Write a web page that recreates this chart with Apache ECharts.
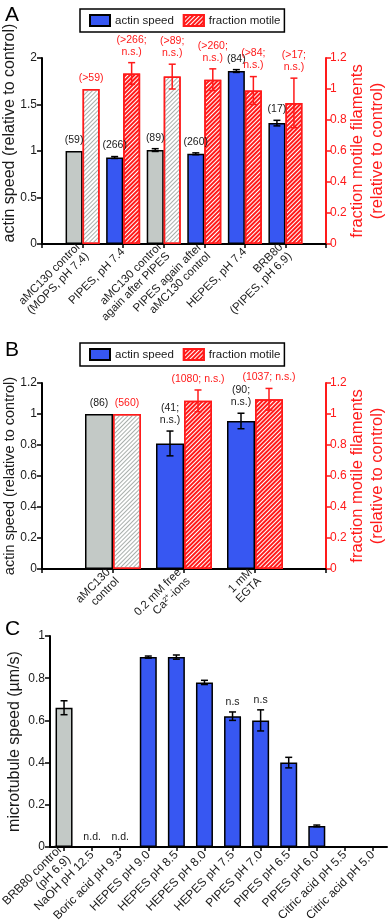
<!DOCTYPE html>
<html><head><meta charset="utf-8">
<script src="https://cdn.jsdelivr.net/npm/echarts@6/dist/echarts.min.js"></script>
<style>html,body{margin:0;padding:0;background:#fff}#c{width:392px;height:922px}</style>
</head><body><div id="c"></div>
<script>
// ---------- Panel A ----------
const catsA = ['aMC130 control\n(MOPS, pH 7.4)', 'PIPES, pH 7.4', 'aMC130 control\nagain after PIPES', 'PIPES again after\naMC130 control', 'HEPES, pH 7.4', 'BRB80\n(PIPES, pH 6.9)'];
const speedA = [1.00, 0.93, 1.01, 0.97, 1.86, 1.30];
const speedErrA = [0, 0.01, 0.015, 0.01, 0.015, 0.03];
const speedLblA = ['(59)', '(266)', '(89)', '(260)', '(84)', '(17)'];
const motileA = [1.00, 1.10, 1.08, 1.06, 0.99, 0.91];
const motileErrA = [0, 0.07, 0.08, 0.07, 0.09, 0.16];
const motileLblA = ['(>59)', '(>266;\nn.s.)', '(>89;\nn.s.)', '(>260;\nn.s.)', '(>84;\nn.s.)', '(>17;\nn.s.)'];
const controlA = [true, false, true, false, false, false];
const ticksLeftA = [0, 0.5, 1, 1.5, 2];
const ticksRightA = [0, 0.2, 0.4, 0.6, 0.8, 1, 1.2];

// ---------- Panel B ----------
const catsB = ['aMC130\ncontrol', '0.2 mM free\nCa²⁺-ions', '1 mM\nEGTA'];
const speedB = [1.00, 0.81, 0.955];
const speedErrB = [0, 0.08, 0.05];
const speedLblB = ['(86)', '(41;\nn.s.)', '(90;\nn.s.)'];
const motileB = [1.00, 1.085, 1.095];
const motileErrB = [0, 0.07, 0.07];
const motileLblB = ['(560)', '(1080; n.s.)', '(1037; n.s.)'];
const controlB = [true, false, false];
const ticksLeftB = [0, 0.2, 0.4, 0.6, 0.8, 1, 1.2];
const ticksRightB = [0, 0.2, 0.4, 0.6, 0.8, 1, 1.2];

// ---------- Panel C ----------
const catsC = ['BRB80 control\n(pH 6.9)', 'NaOH pH 12.5', 'Boric acid pH 9.3', 'HEPES pH 9.0', 'HEPES pH 8.5', 'HEPES pH 8.0', 'HEPES pH 7.5', 'PIPES pH 7.0', 'PIPES pH 6.5', 'PIPES pH 6.0', 'Citric acid pH 5.5', 'Citric acid pH 5.0'];
const speedC = [0.66, null, null, 0.90, 0.90, 0.78, 0.62, 0.60, 0.40, 0.10, null, null];
const speedErrC = [0.033, 0, 0, 0.005, 0.01, 0.01, 0.02, 0.05, 0.025, 0.004, 0, 0];
const speedLblC = ['', 'n.d.', 'n.d.', '', '', '', 'n.s', 'n.s', '', '', '', ''];
const controlC = [true, false, false, false, false, false, false, false, false, false, false, false];
const ticksC = [0, 0.2, 0.4, 0.6, 0.8, 1];

// ---------- styles ----------
const FONT = 'Liberation Sans, Arial, Helvetica, sans-serif';
const BLUE = '#3757f2', GRAY = '#c3c9c6', RED = '#ff1a1a', INK = '#1a1a1a';
const blueStyle = { color: BLUE, borderColor: '#000', borderWidth: 1.5 };
const grayStyle = { color: GRAY, borderColor: '#000', borderWidth: 1.5 };
const redHatch = { color: '#fff', borderColor: RED, borderWidth: 1.5,
  decal: { symbol: 'rect', symbolSize: 1, color: RED, dashArrayX: [1, 0], dashArrayY: [2, 1], rotation: -Math.PI / 4 } };
const grayHatch = { color: '#fff', borderColor: RED, borderWidth: 1.5,
  decal: { symbol: 'rect', symbolSize: 1, color: '#a9afac', dashArrayX: [1, 0], dashArrayY: [1, 2], rotation: -Math.PI / 4 } };

function leftY(grid, ticks, name, nameGap, fs, shiftUp) {
  return { type: 'value', gridIndex: grid, min: ticks[0], max: ticks[ticks.length - 1], interval: ticks[1] - ticks[0],
    axisLine: { show: true, lineStyle: { color: '#000', width: 2 } },
    axisTick: { show: true, length: 5, lineStyle: { color: '#000', width: 1.5 } },
    splitLine: { show: false },
    axisLabel: { color: INK, fontSize: 12, fontFamily: FONT, margin: 5 },
    name, nameLocation: 'middle', nameGap, nameRotate: 90, nameMoveOverlap: false,
    nameTextStyle: { color: INK, fontSize: fs, fontFamily: FONT, padding: [0, 0, 0, 2 * shiftUp] } };
}
function rightY(grid, ticks, name, nameGap) {
  return { type: 'value', gridIndex: grid, position: 'right', min: ticks[0], max: ticks[ticks.length - 1], interval: ticks[1] - ticks[0],
    axisLine: { show: true, lineStyle: { color: RED, width: 2 } },
    axisTick: { show: true, length: 5, lineStyle: { color: RED, width: 1.5 } },
    splitLine: { show: false },
    axisLabel: { color: RED, fontSize: 12, fontFamily: FONT, margin: 4 },
    name, nameLocation: 'middle', nameGap, nameRotate: 90, nameMoveOverlap: false,
    nameTextStyle: { color: RED, fontSize: 16.5, fontFamily: FONT, lineHeight: 20 } };
}
const axisCommon = {
  axisLine: { show: true, lineStyle: { color: '#000', width: 2 } },
  axisTick: { show: true, length: 4, lineStyle: { color: '#000', width: 1.5 } },
  splitLine: { show: false }
};
function valX(grid, cats, fs) {
  return Object.assign({ type: 'value', gridIndex: grid, min: 0, max: cats.length + 1, interval: 1,
    axisLabel: { rotate: 45, color: INK, fontSize: fs, fontFamily: FONT, lineHeight: fs + 1, margin: 6,
      showMinLabel: true, showMaxLabel: true,
      formatter: v => cats[Math.round(v) - 1] || '' } }, axisCommon);
}
function catX(grid, data, fs) {
  return Object.assign({ type: 'category', gridIndex: grid, data, boundaryGap: true,
    axisLabel: { rotate: 45, interval: 0, color: INK, fontSize: fs, fontFamily: FONT, lineHeight: fs + 1, margin: 6 } },
    axisCommon, { axisTick: { show: true, length: 4, interval: 0, alignWithLabel: true, lineStyle: { color: '#000', width: 1.5 } } });
}
function barSeries(name, xi, yi, vals, ctrl, shift, baseStyle, ctrlStyle, width) {
  const d = vals.map((v, i) => {
    if (v == null) return null;
    return { value: shift == null ? v : [i + shift, v], itemStyle: ctrl[i] ? ctrlStyle : baseStyle };
  });
  return { name, type: 'bar', xAxisIndex: xi, yAxisIndex: yi, barWidth: width, barGap: '0%',
    itemStyle: baseStyle, data: shift == null ? d : d.filter(x => x) };
}
function errSeries(xi, yi, vals, errs, lbls, shift, offset, color, lblColor, gap) {
  const data = vals.map((v, i) => [i + shift, v == null ? 0 : v, errs[i] || 0, i]);
  return { type: 'custom', xAxisIndex: xi, yAxisIndex: yi, data, z: 5, silent: true,
    renderItem(params, api) {
      const x = api.value(0), v = api.value(1), e = api.value(2), k = api.value(3);
      const hi = api.coord([x, v + e]), lo = api.coord([x, v - e]);
      const cx = hi[0] + offset;
      const ch = [];
      const ls = { stroke: color, lineWidth: 1.5 };
      if (e > 0) {
        ch.push({ type: 'line', shape: { x1: cx, y1: hi[1], x2: cx, y2: lo[1] }, style: ls });
        ch.push({ type: 'line', shape: { x1: cx - 3.5, y1: hi[1], x2: cx + 3.5, y2: hi[1] }, style: ls });
        ch.push({ type: 'line', shape: { x1: cx - 3.5, y1: lo[1], x2: cx + 3.5, y2: lo[1] }, style: ls });
      }
      if (lbls[k]) ch.push({ type: 'text', x: cx, y: hi[1] - gap,
        style: { text: lbls[k], fill: lblColor, fontSize: 10.5, fontFamily: FONT, align: 'center', verticalAlign: 'bottom', lineHeight: 12 } });
      return { type: 'group', children: ch };
    } };
}

const legendBase = { orient: 'horizontal', left: 80, itemWidth: 20, itemHeight: 11, itemGap: 9, icon: 'rect',
  padding: [5, 4, 5, 9], borderColor: '#000', borderWidth: 1.5, borderRadius: 0,
  textStyle: { color: INK, fontSize: 11.5, fontFamily: FONT },
  data: ['actin speed', 'fraction motile'], selectedMode: false };

const gridBase = { containLabel: false, outerBoundsMode: 'none' };
const option = {
  animation: false,
  backgroundColor: '#fff',
  textStyle: { fontFamily: FONT },
  grid: [
    Object.assign({ left: 42, top: 58, width: 284, height: 186 }, gridBase),
    Object.assign({ left: 42, top: 383, width: 284, height: 186 }, gridBase),
    Object.assign({ left: 50, top: 636, width: 337, height: 211 }, gridBase)
  ],
  legend: [Object.assign({}, legendBase, { top: 9 }), Object.assign({}, legendBase, { top: 343 })],
  xAxis: [valX(0, catsA, 11.5), valX(1, catsB, 11.5), catX(2, catsC, 12)],
  yAxis: [
    leftY(0, ticksLeftA, 'actin speed (relative to control)', 24, 16, 18),
    rightY(0, ticksRightA, 'fraction motile filaments\n(relative to control)', 21),
    leftY(1, ticksLeftB, 'actin speed (relative to control)', 25, 14.5, 0),
    rightY(1, ticksRightB, 'fraction motile filaments\n(relative to control)', 21),
    leftY(2, ticksC, 'microtubule speed (µm/s)', 27, 16, 0)
  ],
  graphic: [
    { type: 'text', left: 5, top: 5, style: { text: 'A', fontSize: 21, fontFamily: FONT, fill: '#000' } },
    { type: 'text', left: 5, top: 340, style: { text: 'B', fontSize: 21, fontFamily: FONT, fill: '#000' } },
    { type: 'text', left: 5, top: 619, style: { text: 'C', fontSize: 21, fontFamily: FONT, fill: '#000' } }
  ],
  series: [
    barSeries('actin speed', 0, 0, speedA, controlA, 1, blueStyle, grayStyle, 17),
    barSeries('fraction motile', 0, 1, motileA, controlA, 1, redHatch, grayHatch, 17),
    errSeries(0, 0, speedA, speedErrA, speedLblA, 1, -8.5, '#000', INK, 5),
    errSeries(0, 1, motileA, motileErrA, motileLblA, 1, 8.5, RED, RED, 5),
    barSeries('actin speed', 1, 2, speedB, controlB, 1, blueStyle, grayStyle, 28),
    barSeries('fraction motile', 1, 3, motileB, controlB, 1, redHatch, grayHatch, 28),
    errSeries(1, 2, speedB, speedErrB, speedLblB, 1, -14, '#000', INK, 5),
    errSeries(1, 3, motileB, motileErrB, motileLblB, 1, 14, RED, RED, 5),
    barSeries('microtubule speed', 2, 4, speedC, controlC, null, blueStyle, grayStyle, 17),
    errSeries(2, 4, speedC, speedErrC, speedLblC, 0, 0, '#000', INK, 4)
  ]
};
const chart = echarts.init(document.getElementById('c'), null, { renderer: 'canvas' });
chart.setOption(option);
</script></body></html>
